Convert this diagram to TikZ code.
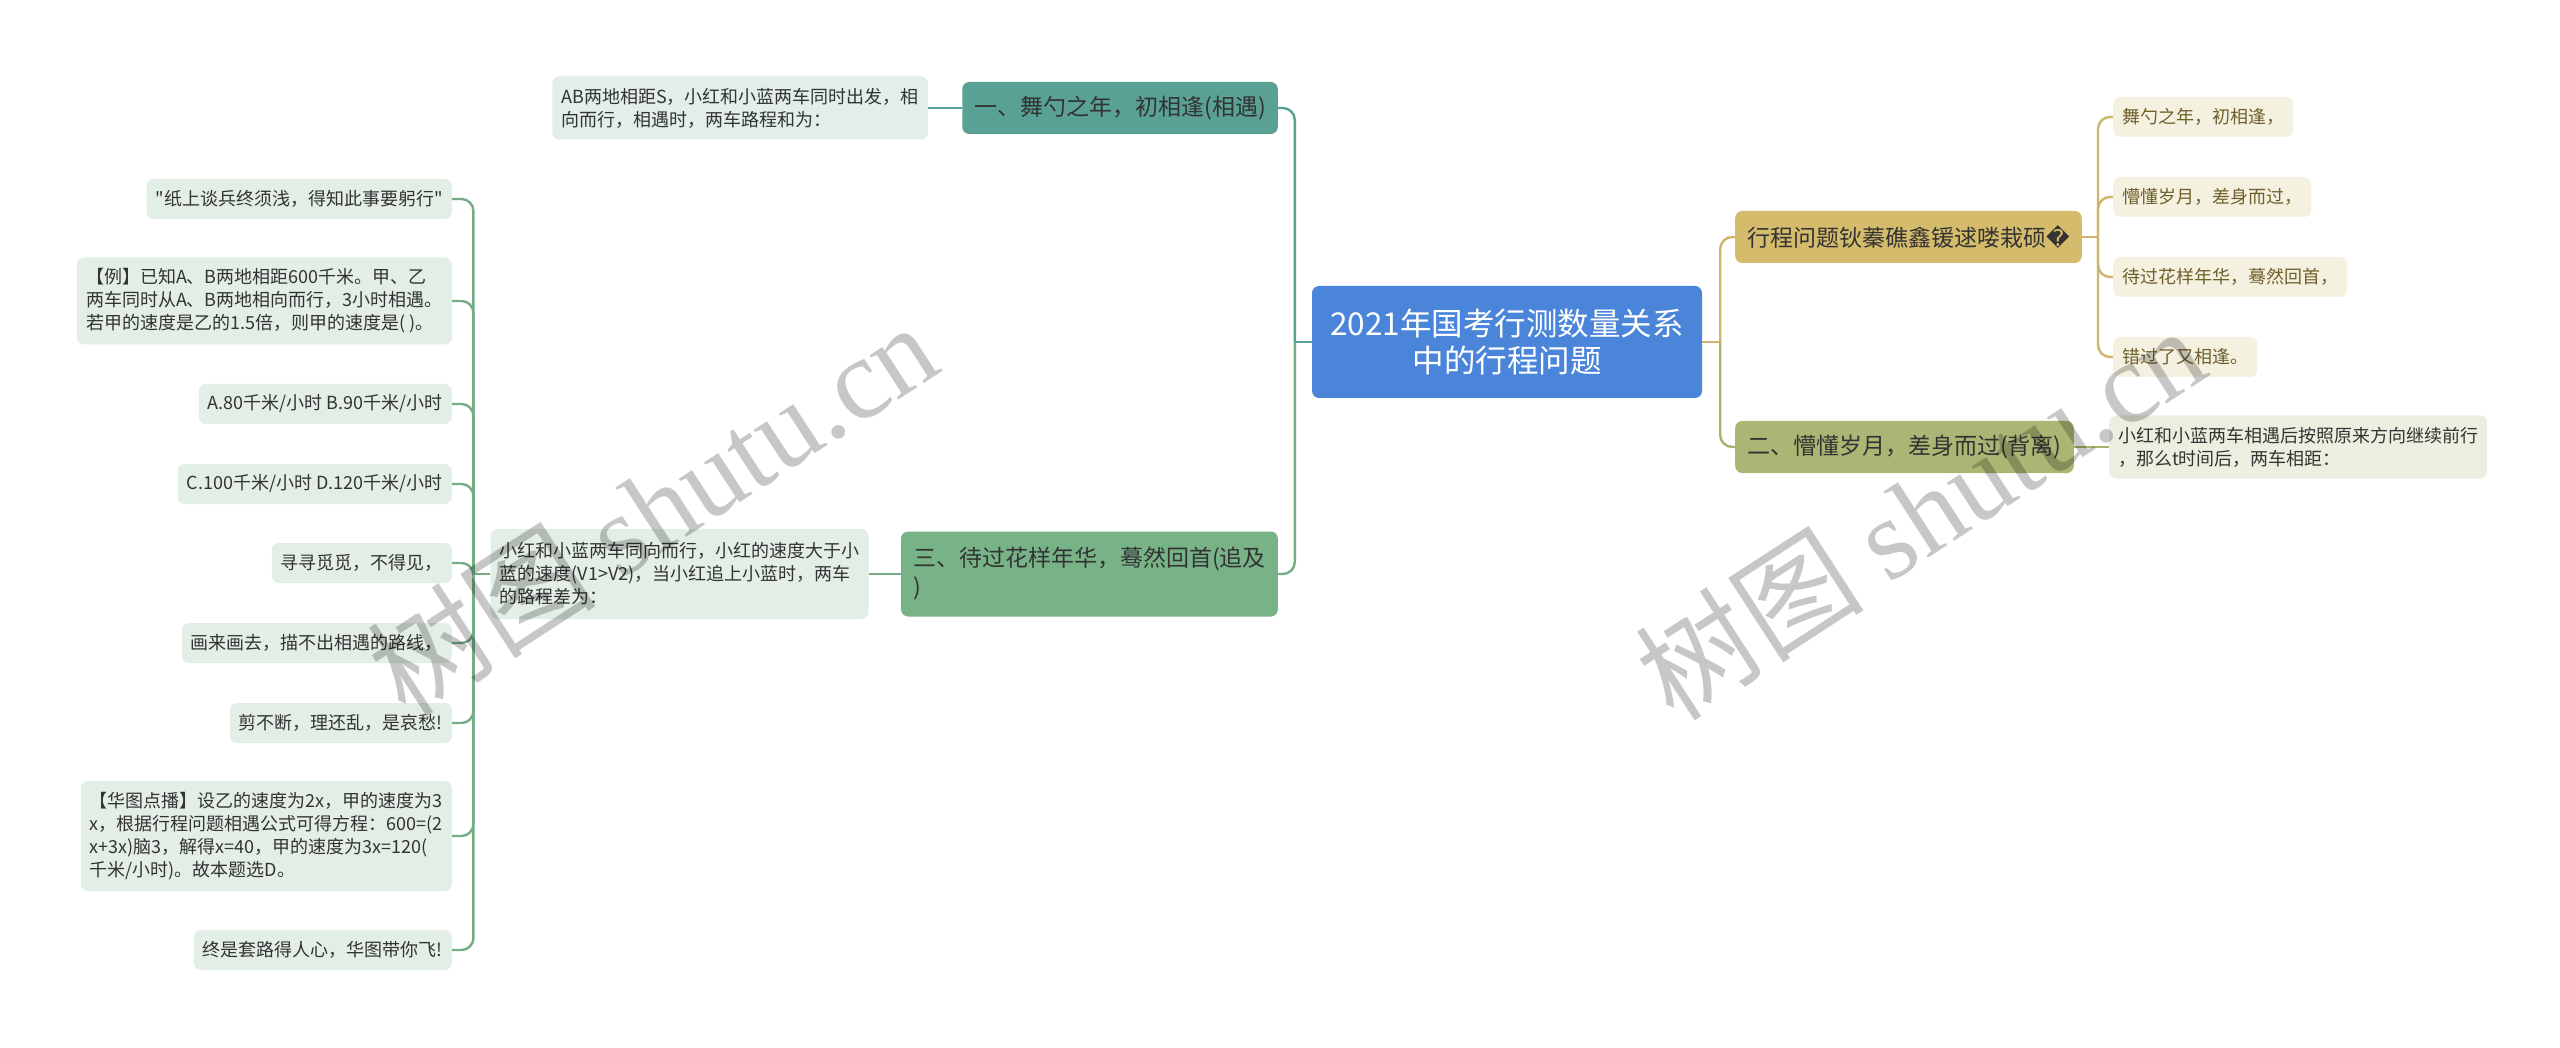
\documentclass[tikz,border=0pt]{standalone}
\usepackage{fontspec}
\newfontfamily\cjk{Noto Sans CJK SC}
\newfontfamily\dejavu{DejaVu Sans}
\newfontfamily\wmserif{Liberation Serif}
\usepackage{xcolor}
\usepackage{tikz}
\usetikzlibrary{positioning}
\usetikzlibrary{calc}

\definecolor{rootblue}{HTML}{4A85DA}
\definecolor{tealfill}{HTML}{59A194}
\definecolor{tealleaf}{HTML}{E1EEEB}
\definecolor{greenfill}{HTML}{78B388}
\definecolor{greenleaf}{HTML}{E3EFE6}
\definecolor{greenline}{HTML}{74AD85}
\definecolor{goldfill}{HTML}{D5BB6C}
\definecolor{goldleaf}{HTML}{F4F1E1}
\definecolor{goldline}{HTML}{CFB56C}
\definecolor{goldtext}{HTML}{6E5F2B}
\definecolor{olivefill}{HTML}{ADB574}
\definecolor{oliveleaf}{HTML}{EEEEE0}
\definecolor{oliveline}{HTML}{A9B26C}
\definecolor{darktext}{HTML}{333333}

\begin{document}
\begin{tikzpicture}[x=1pt,y=-1pt, node distance=34pt,
  rootbox/.style={fill=rootblue, text=white, rounded corners=7pt, align=center,
    minimum width=390pt, inner ysep=0pt, minimum height=112pt, font={\cjk\fontsize{31.5}{37}\selectfont}},
  branchbox/.style={rounded corners=7pt, align=left, text=darktext,
    inner xsep=12pt, inner ysep=0pt, minimum height=52pt, font={\cjk\fontsize{23}{29}\selectfont}},
  leafbox/.style={rounded corners=7pt, align=left, text=darktext,
    inner xsep=9pt, inner ysep=0pt, minimum height=40pt, font={\cjk\fontsize{18}{23}\selectfont}},
  tealbranch/.style={branchbox, fill=tealfill},
  greenbranch/.style={branchbox, fill=greenfill, minimum height=85pt},
  goldbranch/.style={branchbox, fill=goldfill},
  olivebranch/.style={branchbox, fill=olivefill},
  tealtip/.style={leafbox, fill=tealleaf, minimum height=63pt},
  greentip/.style={leafbox, fill=greenleaf},
  goldtip/.style={leafbox, fill=goldleaf, text=goldtext},
  olivetip/.style={leafbox, fill=oliveleaf, minimum height=63pt},
  link/.style={line width=2.4pt, rounded corners=12pt},
  wmark/.style={text=black, text opacity=0.22, inner sep=0pt}]
\useasboundingbox[fill=white] (0,0) rectangle (2560,1048);

\node[rootbox] (root) at (1507,342) {2021年国考行测数量关系\\中的行程问题};
\coordinate[left=17pt of root.west] (lsp);
\coordinate[right=18pt of root.east] (rsp);
%%%%%%%%%%%%%%
\node[tealbranch, anchor=east] (b1) at (1278,108) {一、舞勺之年，初相逢(相遇)};
\node[tealtip, left=34pt of b1] (b1tip) {AB两地相距S，小红和小蓝两车同时出发，相\\向而行，相遇时，两车路程和为：};
%%%%%%%%%%%%%%
\node[greenbranch, anchor=east] (b3) at (1278,574) {三、待过花样年华，蓦然回首(追及\\)};
\node[greentip, left=32pt of b3, minimum height=90pt] (b3tip) {小红和小蓝两车同向而行，小红的速度大于小\\蓝的速度(V1>V2)，当小红追上小蓝时，两车\\的路程差为：};
\coordinate[left=17pt of b3tip.west] (gsp);
%%%%%%%%%%%%%%
\node[greentip, anchor=east] (g1) at (452,199) {"纸上谈兵终须浅，得知此事要躬行"};
\node[greentip, anchor=east, minimum height=87pt] (g2) at (452,301) {【例】已知A、B两地相距600千米。甲、乙\\两车同时从A、B两地相向而行，3小时相遇。\\若甲的速度是乙的1.5倍，则甲的速度是( )。};
\node[greentip, anchor=east] (g3) at (452,404) {A.80千米/小时 B.90千米/小时};
\node[greentip, anchor=east] (g4) at (452,484) {C.100千米/小时 D.120千米/小时};
\node[greentip, anchor=east] (g5) at (452,563) {寻寻觅觅，不得见，};
\node[greentip, anchor=east] (g6) at (452,643) {画来画去，描不出相遇的路线，};
\node[greentip, anchor=east] (g7) at (452,723) {剪不断，理还乱，是哀愁!};
\node[greentip, anchor=east, minimum height=110pt] (g8) at (452,836) {【华图点播】设乙的速度为2x，甲的速度为3\\x，根据行程问题相遇公式可得方程：600=(2\\x+3x)脑3，解得x=40，甲的速度为3x=120(\\千米/小时)。故本题选D。};
\node[greentip, anchor=east] (g9) at (452,950) {终是套路得人心，华图带你飞!};
%%%%%%%%%%%%%%
\node[goldbranch, anchor=west] (b2) at (1735,237) {行程问题钬蓁礁鑫锾逑喽栽硕{\dejavu �}};
\coordinate[right=16pt of b2.east] (ysp);
\node[goldtip, anchor=west] (y1) at (2113,117) {舞勺之年，初相逢，};
\node[goldtip, anchor=west] (y2) at (2113,197) {懵懂岁月，差身而过，};
\node[goldtip, anchor=west] (y3) at (2113,277) {待过花样年华，蓦然回首，};
\node[goldtip, anchor=west] (y4) at (2113,357) {错过了又相逢。};
%%%%%%%%%%%%%%
\node[olivebranch, anchor=west] (b4) at (1735,447) {二、懵懂岁月，差身而过(背离)};
\node[olivetip, right=35pt of b4] (b4tip) {小红和小蓝两车相遇后按照原来方向继续前行\\，那么t时间后，两车相距：};

\draw[link, tealfill] (root.west) -- (lsp);
\draw[link, tealfill] (lsp) |- (b1.east);
\draw[link, greenline] (lsp) |- (b3.east);
\draw[link, tealfill] (b1.west) -- (b1tip.east);
\draw[link, greenline] (b3.west) -- (b3tip.east);
%%%%%%%%%%%%%%
\draw[link, greenline] (b3tip.west) -- (gsp);
\draw[link, greenline] (gsp) |- (g1.east);
\draw[link, greenline] (gsp) |- (g2.east);
\draw[link, greenline] (gsp) |- (g3.east);
\draw[link, greenline] (gsp) |- (g4.east);
\draw[link, greenline] (gsp) |- (g5.east);
\draw[link, greenline] (gsp) |- (g6.east);
\draw[link, greenline] (gsp) |- (g7.east);
\draw[link, greenline] (gsp) |- (g8.east);
\draw[link, greenline] (gsp) |- (g9.east);
%%%%%%%%%%%%%%
\draw[link, goldline] (root.east) -- (rsp);
\draw[link, goldline] (rsp) |- (b2.west);
\draw[link, oliveline] (rsp) |- (b4.west);
\draw[link, goldline] (b2.east) -- (ysp);
\draw[link, goldline] (ysp) |- (y1.west);
\draw[link, goldline] (ysp) |- (y2.west);
\draw[link, goldline] (ysp) |- (y3.west);
\draw[link, goldline] (ysp) |- (y4.west);
\draw[link, oliveline] (b4.east) -- (b4tip.west);
%%%%%%%%%%%%%%
\node[wmark, rotate=33] (wm1) at (652,508) {\cjk\fontsize{115}{115}\selectfont 树图 \wmserif shutu.cn};
\node[wmark, rotate=33] (wm2) at (1920,512) {\cjk\fontsize{115}{115}\selectfont 树图 \wmserif shutu.cn};
\end{tikzpicture}
\end{document}
